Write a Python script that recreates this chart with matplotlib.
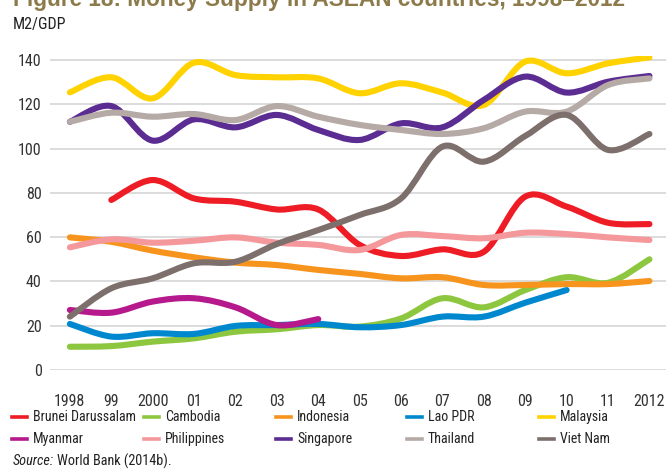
import numpy as np
import matplotlib
matplotlib.use('Agg')
import matplotlib.pyplot as plt
from matplotlib import font_manager
from matplotlib.path import Path
from matplotlib.patches import PathPatch
from matplotlib.lines import Line2D

have = set(f.name for f in font_manager.fontManager.ttflist)
narrow = [f for f in ['Roboto Condensed', 'Archivo Narrow', 'PT Sans Narrow', 'Asap Condensed']
          if f in have]
plt.rcParams['font.family'] = narrow[:1] + ['Liberation Sans', 'DejaVu Sans']

years = list(range(1998, 2013))
year_labels = ['1998', '99', '2000', '01', '02', '03', '04', '05', '06', '07', '08',
               '09', '10', '11', '2012']
nan = np.nan

brunei = [nan, 76.8, 85.8, 77.5, 76.0, 72.5, 72.5, 56.5, 51.5, 54.5, 53.4, 78.3, 73.8, 66.5, 65.9]
cambodia = [10.5, 10.8, 12.8, 14.3, 17.3, 18.4, 20.3, 19.6, 23.3, 32.4, 28.3, 36.1, 41.9, 39.4, 50.0]
indonesia = [59.9, 57.9, 53.9, 50.9, 48.5, 47.4, 45.2, 43.4, 41.4, 41.9, 38.4, 38.4, 38.8, 38.8, 40.2]
lao = [20.8, 15.1, 16.6, 16.3, 19.9, 20.3, 20.8, 19.3, 20.3, 24.1, 24.1, 30.4, 36.1, nan, nan]
malaysia = [125.4, 132.2, 122.7, 138.8, 133.2, 132.2, 131.7, 125.0, 129.5, 125.3, 119.7, 139.3, 134.0, 138.5, 141.2]
myanmar = [27.1, 25.9, 30.9, 32.4, 28.3, 20.3, 23.0, nan, nan, nan, nan, nan, nan, nan, nan]
philippines = [55.4, 59.0, 57.5, 58.4, 59.9, 57.5, 56.5, 54.2, 61.0, 60.5, 59.5, 62.0, 61.4, 59.9, 58.7]
singapore = [112.1, 119.2, 103.6, 113.2, 109.6, 115.2, 108.4, 103.9, 111.4, 109.6, 122.0, 132.5, 125.3, 130.2, 132.8]
thailand = [112.1, 116.2, 114.4, 115.6, 112.9, 119.2, 114.4, 110.7, 108.4, 106.6, 109.2, 116.7, 116.7, 128.7, 131.7]
vietnam = [24.1, 36.9, 41.4, 48.2, 48.9, 56.9, 63.2, 70.0, 77.5, 100.9, 94.1, 105.7, 115.2, 99.4, 106.6]

names = ['Brunei Darussalam', 'Cambodia', 'Indonesia', 'Lao PDR', 'Malaysia',
         'Myanmar', 'Philippines', 'Singapore', 'Thailand', 'Viet Nam']
series = [brunei, cambodia, indonesia, lao, malaysia,
          myanmar, philippines, singapore, thailand, vietnam]
colors = ['#ee1c25', '#8dc63f', '#f7941d', '#0088cf', '#ffd200',
          '#b5198c', '#f4989c', '#5b2c91', '#b5aaa5', '#7d6f6c']


def smooth_path(xs, ys):
    # catmull-rom through the points, as cubic bezier segments
    pts = [(x, y) for x, y in zip(xs, ys) if not np.isnan(y)]
    p = np.array(pts, dtype=float)
    verts = [p[0]]
    codes = [Path.MOVETO]
    n = len(p)
    for i in range(n - 1):
        p0 = p[i - 1] if i > 0 else p[i]
        p1 = p[i]
        p2 = p[i + 1]
        p3 = p[i + 2] if i + 2 < n else p[i + 1]
        c1 = p1 + (p2 - p0) / 6.0
        c2 = p2 - (p3 - p1) / 6.0
        verts += [c1, c2, p2]
        codes += [Path.CURVE4] * 3
    return Path(verts, codes)


fig = plt.figure(figsize=(6.66, 4.70), dpi=100)
W, H = 666, 470
ax = fig.add_axes([50 / W, 1 - 370 / H, 616 / W, (370 - 55.6) / H])

for vals, c in zip(series, colors):
    patch = PathPatch(smooth_path(years, vals), facecolor='none', edgecolor=c,
                      lw=4.4, capstyle='round', joinstyle='round', zorder=3)
    ax.add_patch(patch)

ax.set_xlim(1997.52, 2012.4)
ax.set_ylim(0, 142)
ax.set_yticks(range(0, 141, 20))
ax.set_xticks(years)
ax.set_xticklabels(year_labels)
ax.yaxis.grid(True, color='#d9d9d9', lw=1.3)
ax.set_axisbelow(True)
for s in ax.spines.values():
    s.set_visible(False)
ax.tick_params(axis='both', length=0, labelsize=11.5, colors='#333333')
ax.tick_params(axis='y', pad=6)
ax.tick_params(axis='x', pad=17)

# title (partly cut off at the top in the original)
fig.text(13 / W, 1 - 6 / H, 'Figure 18: Money Supply in ASEAN countries, 1998\u20132012',
         color='#8c7a4a', fontsize=16.3, fontweight='bold', va='baseline', ha='left',
         family=['Liberation Sans', 'DejaVu Sans'])
fig.text(13 / W, 1 - 24 / H, 'M2/GDP', fontsize=11.5, va='center', ha='left', color='#222222')

# legend, two rows of five
col_x = [12, 144, 276, 407, 539]
row_y = [417, 439]
for k, (nm, c) in enumerate(zip(names, colors)):
    x0 = col_x[k % 5]
    y0 = row_y[k // 5]
    fig.add_artist(Line2D([x0 / W, (x0 + 15) / W], [1 - y0 / H, 1 - y0 / H],
                          color=c, lw=2.6, transform=fig.transFigure))
    fig.text((x0 + 21) / W, 1 - y0 / H, nm, fontsize=10, va='center', ha='left',
             color='#222222')

t = fig.text(13 / W, 1 - 461 / H, 'Source:', fontsize=10.3, style='italic',
             va='center', ha='left', color='#222222')
fig.canvas.draw()
bb = t.get_window_extent()
fig.text((bb.x1 + 3) / W, 1 - 461 / H, 'World Bank (2014b).', fontsize=10.3,
         va='center', ha='left', color='#222222')

fig.savefig('out.png', dpi=100)
